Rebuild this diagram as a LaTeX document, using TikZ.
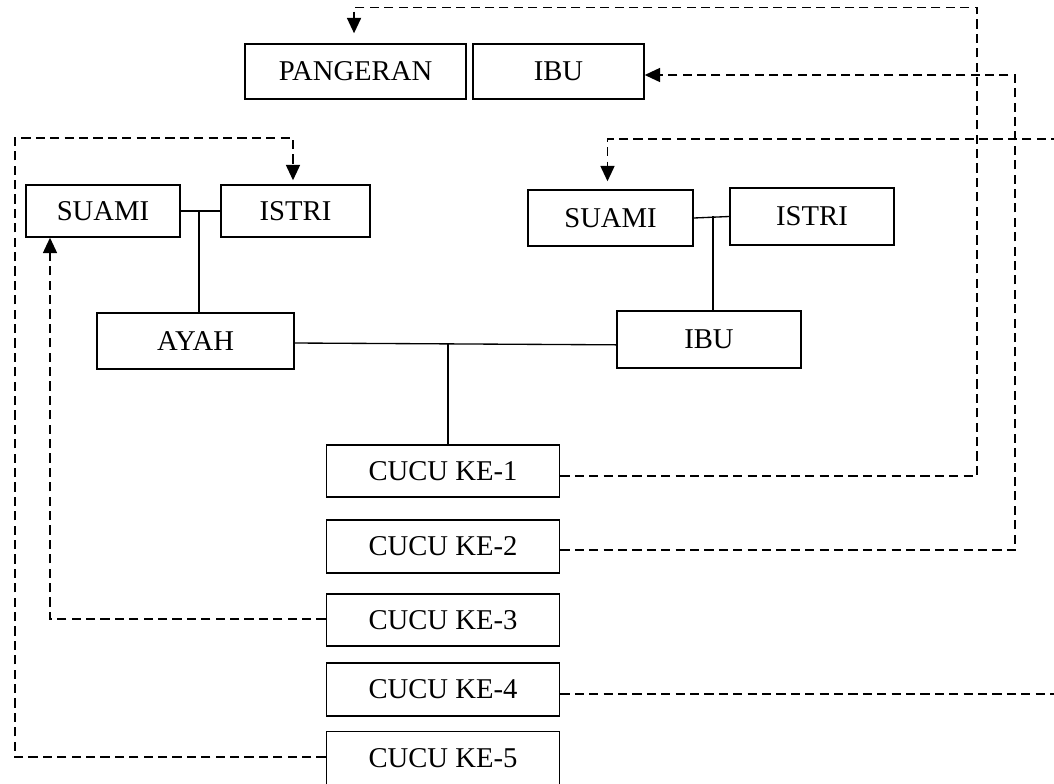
\documentclass[tikz,border=0pt]{standalone}
\usepackage{fontspec}
\setmainfont{Liberation Serif}
\usetikzlibrary{arrows.meta,calc}
\tikzset{
  box/.style={draw, line width=1.1pt, inner sep=0pt, font=\fontsize{21.5}{24}\selectfont},
  link/.style={line width=1pt},
  dashconn/.style={line width=1.2pt, dash pattern=on 6.8pt off 4pt, -{Triangle[length=11.5pt,width=10.5pt]}},
  dashfree/.style={line width=1.2pt, dash pattern=on 6.8pt off 4pt}
}
\newcommand{\bx}[6]{\node[box, minimum width=#4*0.75pt, minimum height=#5*0.75pt] (#1) at (#2,#3) {#6};}
\begin{document}
\begin{tikzpicture}[x=0.75pt,y=-0.75pt]
\useasboundingbox (0,0) rectangle (1054,783);
\clip (0,0) rectangle (1054,783);
% boxes
\bx{pang}{355.5}{71.5}{221}{55}{PANGERAN}
\bx{ibuT}{558.5}{71.5}{171}{55}{IBU}
\bx{suamiL}{103}{211}{154}{52}{SUAMI}
\bx{istriL}{295.5}{211}{149}{52}{ISTRI}
\bx{suamiR}{610.5}{218}{165}{56}{SUAMI}
\bx{istriR}{812}{216.5}{164}{57}{ISTRI}
\bx{ayah}{195.5}{341}{197}{56}{AYAH}
\bx{ibuM}{709}{339.5}{184}{57}{IBU}
\bx{c1}{443}{471}{233.5}{52}{CUCU KE-1}
\bx{c2}{443}{546.5}{233.5}{53}{CUCU KE-2}
\bx{c3}{443}{620}{233.5}{52}{CUCU KE-3}
\bx{c4}{443}{689.5}{233.5}{53}{CUCU KE-4}
\bx{c5}{443}{758.5}{233.5}{54}{CUCU KE-5}
% family links
\draw[link] (suamiL.east) -- (istriL.west);
\coordinate (jl) at (199,211.5);
\draw[link] (jl) -- (jl |- ayah.north);
\draw[link] (suamiR.east) -- (istriR.west);
\coordinate (jr) at (713,216);
\draw[link] (jr) -- (jr |- ibuM.north);
\draw[link] ([yshift=-1.5pt]ayah.east) -- ([yshift=-4pt]ibuM.west);
\coordinate (jm) at ($([yshift=-1.5pt]ayah.east)!0.477!([yshift=-4pt]ibuM.west)$);
\draw[link] (jm) -- (jm |- c1.north);
% dashed connectors
\coordinate (r1) at (977,7.5);
\draw[dashconn, shorten >=7.5pt] ([yshift=-3.75pt]c1.east) -| (r1) -| ([xshift=-1.1pt]pang.north);
\coordinate (r2) at (1015,75);
\draw[dashconn] ([yshift=-2.6pt]c2.east) -| (r2) -- (ibuT.east |- r2);
\coordinate (l3) at (50,619);
\draw[dashconn] (c3.west |- l3) -- (l3) -- (l3 |- suamiL.south);
\coordinate (r4a) at (1080,694);
\coordinate (r4b) at (1080,139);
\coordinate (t4) at (607.5,139);
\draw[dashconn, shorten >=6pt] (c4.east |- r4a) -- (r4a) -- (r4b) -- (t4) -- (t4 |- suamiR.north);
\coordinate (l5) at (15,757);
\coordinate (t5) at (293,138);
\draw[dashconn, shorten >=3pt] (c5.west |- l5) -- (l5) |- (t5) -- (t5 |- istriL.north);
\end{tikzpicture}
\end{document}
